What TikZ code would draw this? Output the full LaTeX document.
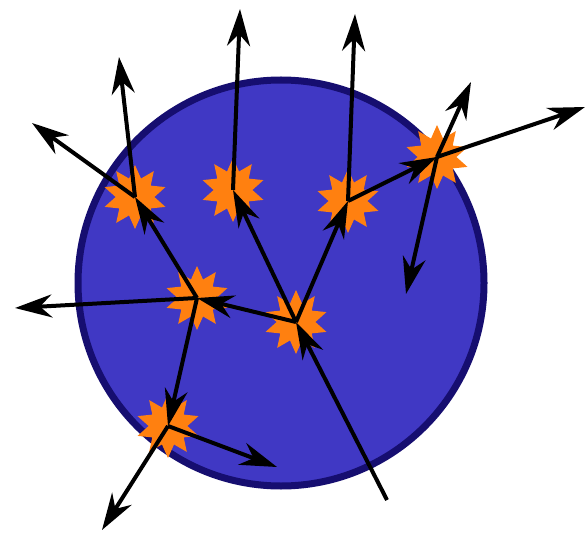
\documentclass[tikz,border=0pt]{standalone}
\usepackage{tikz}
\usetikzlibrary{arrows.meta,shapes.geometric}
\definecolor{coreblue}{RGB}{64,56,196}
\definecolor{rimblue}{RGB}{22,14,112}
\definecolor{flash}{RGB}{255,128,16}

\begin{document}
\begin{tikzpicture}[x=1pt,y=-1pt,
  burst/.style={star,star points=10,star point ratio=1.65,fill=flash,minimum size=64pt,inner sep=0pt},
  ray/.style={-{Stealth[length=37pt,width=23pt,inset=12pt]},line width=4pt}
]
  \useasboundingbox (0,0) rectangle (585,534);
  \node[circle,draw=rimblue,line width=7pt,fill=coreblue,minimum size=406pt,inner sep=0pt] (core) at (281,283) {};

  % fission sites
  \node[burst] (s1) at (135,197) {};
  \node[burst] (s2) at (233,190) {};
  \node[burst] (s3) at (348,201) {};
  \node[burst] (s4) at (437,157) {};
  \node[burst] (s5) at (197,298) {};
  \node[burst] (s6) at (296,322) {};
  \node[burst] (s7) at (168,426) {};

  % free ends
  \coordinate (in) at (387,500);
  \coordinate (e1) at (32,123);
  \coordinate (e2) at (119,57);
  \coordinate (e3) at (240,9);
  \coordinate (e4) at (355,14);
  \coordinate (e5) at (471,82);
  \coordinate (e6) at (585,107);
  \coordinate (e7) at (406,294);
  \coordinate (e8) at (15,308);
  \coordinate (e9) at (102,530);
  \coordinate (e10) at (277,467);

  \draw[ray] (in) -- (s6.center);
  \draw[ray] (s6.center) -- (s5.center);
  \draw[ray] (s6.center) -- (s2.center);
  \draw[ray] (s6.center) -- (s3.center);
  \draw[ray] (s5.center) -- (s1.center);
  \draw[ray] (s5.center) -- (s7.center);
  \draw[ray] (s5.center) -- (e8);
  \draw[ray] (s1.center) -- (e1);
  \draw[ray] (s1.center) -- (e2);
  \draw[ray] (s2.center) -- (e3);
  \draw[ray] (s3.center) -- (e4);
  \draw[ray] (s3.center) -- (s4.center);
  \draw[ray] (s4.center) -- (e5);
  \draw[ray] (s4.center) -- (e6);
  \draw[ray] (s4.center) -- (e7);
  \draw[ray] (s7.center) -- (e9);
  \draw[ray] (s7.center) -- (e10);
\end{tikzpicture}
\end{document}
